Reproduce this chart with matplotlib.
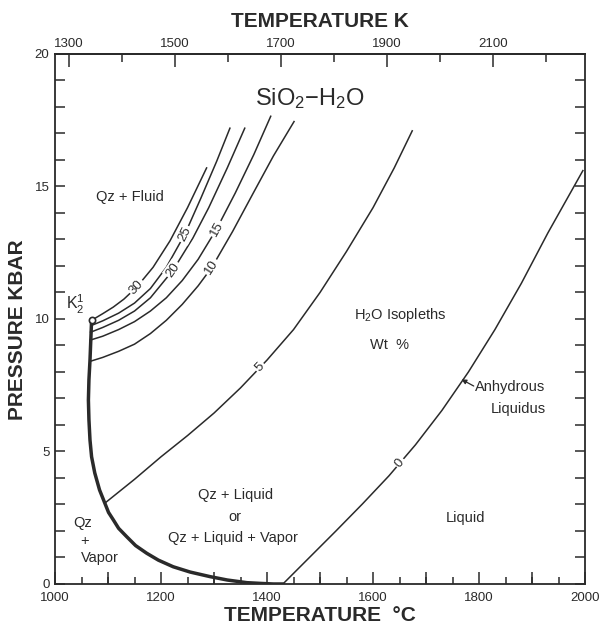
import numpy as np
import matplotlib
matplotlib.use("Agg")
import matplotlib.pyplot as plt
from matplotlib.ticker import FixedLocator, MultipleLocator

plt.rcParams['font.family'] = ['Liberation Sans', 'DejaVu Sans']
plt.rcParams['mathtext.fontset'] = 'custom'
plt.rcParams['mathtext.rm'] = 'Liberation Sans'
plt.rcParams['mathtext.it'] = 'Liberation Sans:italic'
plt.rcParams['mathtext.bf'] = 'Liberation Sans:bold'

INK = '#2a2a2a'

# ---- data (T in degC, P in kbar) ----
boundary_T = [1069, 1066, 1064, 1063, 1064, 1066, 1069, 1075, 1084, 1094, 1101, 1110, 1120,
              1135, 1152, 1173, 1195, 1223, 1255, 1292, 1325, 1362, 1390, 1412, 1430]
boundary_P = [9.95, 8.45, 7.7, 6.94, 6.2, 5.43, 4.8, 4.19, 3.55, 3.05, 2.7, 2.42, 2.1,
              1.79, 1.45, 1.16, 0.9, 0.65, 0.45, 0.28, 0.15, 0.05, 0.02, 0.0, 0.0]

iso30_T = [1069, 1090, 1110, 1130, 1154, 1185, 1217, 1250, 1286]
iso30_P = [9.95, 10.2, 10.45, 10.75, 11.2, 11.95, 12.95, 14.2, 15.7]
iso25_T = [1068, 1090, 1120, 1150, 1180, 1210, 1245, 1275, 1305, 1330]
iso25_P = [9.75, 9.93, 10.22, 10.6, 11.15, 11.95, 13.2, 14.55, 15.95, 17.2]
iso20_T = [1067, 1090, 1120, 1150, 1180, 1223, 1260, 1290, 1325, 1358]
iso20_P = [9.5, 9.68, 9.95, 10.3, 10.8, 11.85, 13.05, 14.2, 15.7, 17.2]
iso15_T = [1066, 1090, 1120, 1150, 1180, 1210, 1240, 1270, 1305, 1340, 1375, 1407]
iso15_P = [9.2, 9.35, 9.6, 9.9, 10.3, 10.8, 11.45, 12.25, 13.4, 14.75, 16.2, 17.65]
iso10_T = [1066, 1090, 1120, 1150, 1180, 1210, 1240, 1270, 1296, 1335, 1374, 1412, 1451]
iso10_P = [8.4, 8.55, 8.78, 9.05, 9.45, 9.95, 10.55, 11.25, 11.95, 13.3, 14.75, 16.15, 17.45]
iso5_T = [1094, 1150, 1200, 1250, 1300, 1350, 1400, 1450, 1500, 1550, 1600, 1640, 1674]
iso5_P = [3.05, 3.95, 4.8, 5.6, 6.45, 7.4, 8.45, 9.6, 11.0, 12.55, 14.2, 15.7, 17.1]
iso0_T = [1430, 1480, 1530, 1580, 1630, 1680, 1730, 1780, 1830, 1880, 1930, 1996]
iso0_P = [0.0, 1.0, 2.0, 3.02, 4.08, 5.25, 6.55, 8.0, 9.6, 11.35, 13.25, 15.6]

isopleths = [
    ("30", iso30_T, iso30_P, 1154),
    ("25", iso25_T, iso25_P, 1245),
    ("20", iso20_T, iso20_P, 1223),
    ("15", iso15_T, iso15_P, 1305),
    ("10", iso10_T, iso10_P, 1296),
    ("5", iso5_T, iso5_P, 1387),
    ("0", iso0_T, iso0_P, 1651),
]

K2_T, K2_P = 1069, 9.95

top_ticks_K = [1300, 1400, 1500, 1600, 1700, 1800, 1900, 2000, 2100, 2200]
top_labels_K = [1300, 1500, 1700, 1900, 2100]

fig = plt.figure(figsize=(6.14, 6.27), dpi=100)
ax = fig.add_axes([0.0896, 0.0686, 0.8632, 0.8453])
ax.set_xlim(1000, 2000)
ax.set_ylim(0, 20)

# thick boundary
ax.plot(boundary_T, boundary_P, color=INK, lw=2.5, solid_capstyle='round',
        solid_joinstyle='round', zorder=3)

for lab, T, P, tl in isopleths:
    ax.plot(T, P, color=INK, lw=1.1, solid_joinstyle='round', zorder=2)
    Ti = np.array(T, float); Pi = np.array(P, float)
    pl = np.interp(tl, Ti, Pi)
    dT = 10.0
    dP = np.interp(tl + dT, Ti, Pi) - np.interp(tl - dT, Ti, Pi)
    ang = np.degrees(np.arctan2(dP, 2 * dT))
    ax.text(tl, pl, lab, fontsize=9.5, color=INK, ha='center', va='center',
            rotation=ang, transform_rotates_text=True, rotation_mode='anchor',
            bbox=dict(boxstyle='square,pad=0.12', fc='white', ec='none'), zorder=4)

ax.plot([K2_T], [K2_P], 'o', ms=4.5, mfc='white', mec=INK, mew=1.2, zorder=5)

# texts
ax.text(1481, 18.3, r'SiO$_2$$-$H$_2$O', fontsize=17, color=INK, ha='center', va='center')
ax.text(1141, 14.6, 'Qz + Fluid', fontsize=10.5, color=INK, ha='center', va='center')
ax.text(1038, 10.55, r'K$_2^1$', fontsize=11.5, color=INK, ha='center', va='center')
ax.text(1651, 10.15, r'H$_2$O Isopleths', fontsize=10.5, color=INK, ha='center', va='center')
ax.text(1632, 9.0, 'Wt  %', fontsize=10.5, color=INK, ha='center', va='center')
ax.text(1792, 7.45, 'Anhydrous', fontsize=10.5, color=INK, ha='left', va='center')
ax.text(1875, 6.6, 'Liquidus', fontsize=10.5, color=INK, ha='center', va='center')
ax.annotate('', xy=(1767, 7.72), xytext=(1790, 7.47),
            arrowprops=dict(arrowstyle='-|>', color=INK, lw=0.9, mutation_scale=7,
                            shrinkA=0, shrinkB=0))
ax.text(1774, 2.5, 'Liquid', fontsize=10.5, color=INK, ha='center', va='center')
ax.text(1340, 3.36, 'Qz + Liquid', fontsize=10.5, color=INK, ha='center', va='center')
ax.text(1340, 2.53, 'or', fontsize=10.5, color=INK, ha='center', va='center')
ax.text(1336, 1.73, 'Qz + Liquid + Vapor', fontsize=10.5, color=INK, ha='center', va='center')
ax.text(1053, 2.3, 'Qz', fontsize=10.5, color=INK, ha='center', va='center')
ax.text(1055, 1.64, '+', fontsize=10.5, color=INK, ha='center', va='center')
ax.text(1085, 0.98, 'Vapor', fontsize=10.5, color=INK, ha='center', va='center')

# axes styling
for s in ax.spines.values():
    s.set_color(INK)
    s.set_linewidth(1.3)

ax.xaxis.set_major_locator(MultipleLocator(200))
ax.xaxis.set_minor_locator(FixedLocator(np.arange(1000, 2001, 50)))
ax.yaxis.set_major_locator(MultipleLocator(5))
ax.yaxis.set_minor_locator(MultipleLocator(1))
ax.tick_params(axis='x', which='major', direction='in', length=9, width=1.1, colors=INK,
               labelsize=9.5, pad=6, top=False)
ax.tick_params(axis='x', which='minor', direction='in', length=5, width=1.1, colors=INK, top=False)
ax.tick_params(axis='y', which='both', direction='in', length=7, width=1.1, colors=INK,
               labelsize=9.5, right=True, pad=4)

# longer ticks at the odd hundreds on the bottom
sec100 = ax.secondary_xaxis('bottom')
sec100.xaxis.set_major_locator(FixedLocator(np.arange(1100, 2000, 200)))
sec100.tick_params(direction='in', length=9, width=1.1, colors=INK, labelbottom=False)
sec100.spines['bottom'].set_visible(False)

# top Kelvin axis
top = ax.secondary_xaxis('top', functions=(lambda c: c + 273.15, lambda k: k - 273.15))
top.xaxis.set_major_locator(FixedLocator(top_labels_K))
top.xaxis.set_minor_locator(FixedLocator([k for k in top_ticks_K if k not in top_labels_K]))
top.tick_params(which='major', direction='in', length=9, width=1.1, colors=INK, labelsize=9.5, pad=3)
top.tick_params(which='minor', direction='in', length=6, width=1.1, colors=INK)
top.spines['top'].set_color(INK)
top.spines['top'].set_linewidth(1.3)

ax.set_xlabel('TEMPERATURE  °C', fontsize=15, fontweight='bold', color=INK, labelpad=1)
ax.set_ylabel('PRESSURE KBAR', fontsize=15, fontweight='bold', color=INK)
ax.yaxis.set_label_coords(-0.052, 0.48)
top.set_xlabel('TEMPERATURE K', fontsize=15, fontweight='bold', color=INK, labelpad=8)

fig.savefig('out.png', dpi=100, facecolor='white')
